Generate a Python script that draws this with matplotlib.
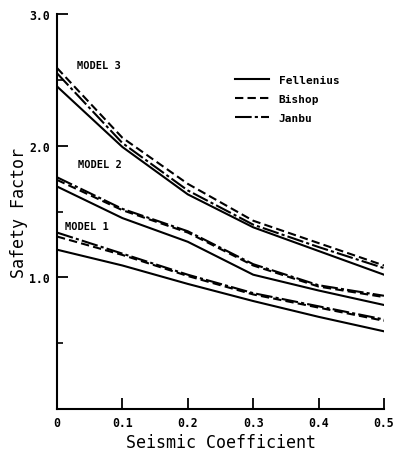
import matplotlib
matplotlib.use("Agg")
import matplotlib.pyplot as plt
from matplotlib.ticker import FixedLocator

seismic = [0.0, 0.1, 0.2, 0.3, 0.4, 0.5]

m3_fellenius = [2.45, 1.99, 1.63, 1.38, 1.20, 1.02]
m3_bishop    = [2.59, 2.06, 1.71, 1.43, 1.26, 1.09]
m3_janbu     = [2.55, 2.02, 1.66, 1.40, 1.23, 1.07]

m2_fellenius = [1.69, 1.45, 1.27, 1.02, 0.90, 0.79]
m2_bishop    = [1.74, 1.51, 1.34, 1.09, 0.93, 0.85]
m2_janbu     = [1.76, 1.52, 1.35, 1.10, 0.94, 0.86]

m1_fellenius = [1.21, 1.09, 0.95, 0.82, 0.70, 0.59]
m1_bishop    = [1.31, 1.17, 1.01, 0.87, 0.77, 0.67]
m1_janbu     = [1.34, 1.18, 1.02, 0.88, 0.78, 0.68]

x_ticks = [0.0, 0.1, 0.2, 0.3, 0.4, 0.5]
x_ticklabels = ["0", "0.1", "0.2", "0.3", "0.4", "0.5"]
y_ticks = [1.0, 2.0, 3.0]
y_ticklabels = ["1.0", "2.0", "3.0"]
method_names = ["Fellenius", "Bishop", "Janbu"]
model_names = ["MODEL 3", "MODEL 2", "MODEL 1"]

fig = plt.figure(figsize=(3.93, 4.52), dpi=100)
ax = fig.add_axes([57/393, 1 - 410/452, (384 - 57)/393, (410 - 15)/452])

lw = 1.5
styles = {
    "Fellenius": dict(linestyle="-"),
    "Bishop": dict(linestyle=(0, (4, 2))),
    "Janbu": dict(linestyle=(0, (8, 1.5, 1.5, 1.5))),
}
groups = [
    (m3_fellenius, m3_bishop, m3_janbu),
    (m2_fellenius, m2_bishop, m2_janbu),
    (m1_fellenius, m1_bishop, m1_janbu),
]
for gi, (f, b, j) in enumerate(groups):
    for name, vals in zip(method_names, (f, b, j)):
        ax.plot(seismic, vals, color="black", lw=lw,
                label=name if gi == 0 else None, **styles[name])

ax.set_xlim(0, 0.5)
ax.set_ylim(0, 3.0)
for s in ("top", "right"):
    ax.spines[s].set_visible(False)
for s in ("left", "bottom"):
    ax.spines[s].set_linewidth(1.5)

ax.xaxis.set_major_locator(FixedLocator(x_ticks))
ax.set_xticklabels(x_ticklabels)
ax.yaxis.set_major_locator(FixedLocator(y_ticks))
ax.set_yticklabels(y_ticklabels)
ax.yaxis.set_minor_locator(FixedLocator([0.5, 1.5, 2.5]))
ax.tick_params(axis="both", which="major", direction="in", length=8, width=1.3,
               labelsize=8.3, pad=5)
ax.tick_params(axis="y", which="minor", direction="in", length=4, width=1.2)
ax.tick_params(axis="x", pad=5)
for lab in ax.get_xticklabels() + ax.get_yticklabels():
    lab.set_family("DejaVu Sans Mono")
    lab.set_fontweight("bold")

ax.set_xlabel("Seismic Coefficient", fontsize=12, family="DejaVu Sans Mono", labelpad=3)
ax.set_ylabel("Safety Factor", fontsize=12, family="DejaVu Sans Mono", labelpad=1)

label_pos = [(0.031, 2.61), (0.032, 1.86), (0.012, 1.39)]
for name, (lx, ly) in zip(model_names, label_pos):
    ax.text(lx, ly, name, fontsize=7.5, family="DejaVu Sans Mono",
            fontweight="bold", ha="left", va="center")

leg = ax.legend(loc="upper left", bbox_to_anchor=(0.515, 0.87), frameon=False,
                handlelength=3.0, handletextpad=0.9, labelspacing=0.8,
                prop=dict(family="DejaVu Sans Mono", weight="bold", size=8))

fig.savefig("out.png", dpi=100)
